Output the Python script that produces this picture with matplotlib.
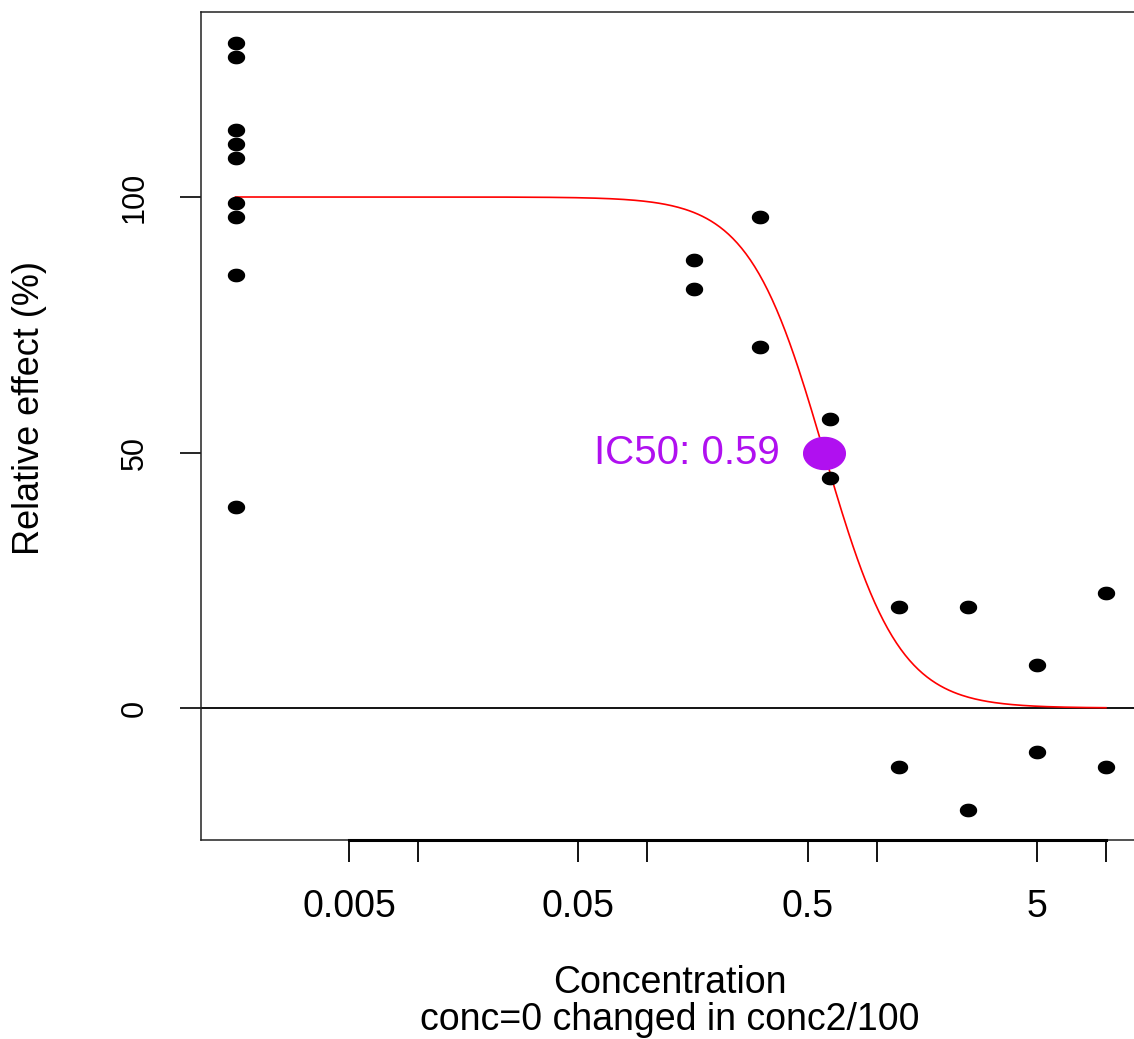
import matplotlib
matplotlib.use("Agg")
import matplotlib.pyplot as plt
import numpy as np
from matplotlib.path import Path
from matplotlib.ticker import NullLocator

plt.rcParams['font.family'] = ['Liberation Sans', 'DejaVu Sans']

# data (conc=0 replaced by conc2/100)
conc = [0.0016] * 9 + [0.16] * 2 + [0.31] * 2 + [0.625] * 2 \
    + [1.25] * 2 + [2.5] * 2 + [5] * 2 + [10] * 2
effect = [130.1, 127.3, 113.2, 110.4, 107.6, 98.9, 96.0, 84.7, 39.4,
          87.7, 81.9,
          96.1, 70.7,
          56.6, 45.1,
          19.7, -11.5,
          19.7, -20.0,
          8.4, -8.7,
          22.6, -11.5]

ic50 = 0.59
hill = 2.65
top, bottom = 100, 0

xticks = [0.005, 0.01, 0.05, 0.1, 0.5, 1, 5, 10]
xticklabels = ['0.005', '', '0.05', '', '0.5', '', '5', '']
yticks = [0, 50, 100]

W, H = 1134, 1039
fig = plt.figure(figsize=(W / 100, H / 100), dpi=100)
ax = fig.add_axes([201 / W, (H - 840) / H, (1139 - 201) / W, (840 - 12) / H])

# slightly wide ellipse marker (reference is stretched horizontally)
t = np.linspace(0, 2 * np.pi, 60)
ell = Path(np.column_stack([1.3 * np.cos(t), np.sin(t)]), closed=True)

# fitted curve
xc = np.logspace(np.log10(min(conc)), np.log10(max(conc)), 400)
yc = bottom + (top - bottom) / (1 + (xc / ic50) ** hill)
ax.plot(xc, yc, color='red', lw=1.2, zorder=2)

ax.axhline(0, color='black', lw=1.3, zorder=1)
ax.plot(conc, effect, ls='none', marker=ell, ms=11.5, color='black', zorder=3)

ax.plot([ic50], [50], ls='none', marker=ell, ms=30, color='#B010F0', zorder=4)
ax.annotate('IC50: %.2f' % ic50, xy=(ic50, 50), xytext=(-32, 0),
            textcoords='offset points', ha='right', va='center',
            fontsize=29, color='#B010F0')

dec = 229.3  # pixels per decade in the reference
ax.set_xscale('log')
ax.set_xlim(10 ** (np.log10(0.005) - 148 / dec), 10 ** (np.log10(0.005) + 790 / dec))
ax.set_ylim(-(840 - 708) / 5.11, (708 - 12) / 5.11)

ax.set_xticks(xticks)
ax.set_xticklabels(xticklabels)
ax.xaxis.set_minor_locator(NullLocator())
ax.set_yticks(yticks)
ax.set_yticklabels([str(v) for v in yticks], rotation=90, va='center')

ax.tick_params(axis='x', length=16, width=1.3, pad=19, labelsize=27)
ax.tick_params(axis='y', length=15, width=1.2, pad=22, labelsize=22)

for sp in ax.spines.values():
    sp.set_linewidth(1.1)
    sp.set_color('#222222')

# R style axis line between first and last tick
ax.plot([xticks[0], xticks[-1]], [0, 0], transform=ax.get_xaxis_transform(),
        color='black', lw=2.2, clip_on=False, zorder=5)

fig.text(30 / W, 1 - 408 / H, 'Relative effect (%)', rotation=90,
         ha='center', va='center', fontsize=26)
fig.text(670 / W, 1 - 993 / H, 'Concentration', ha='center', va='baseline', fontsize=27)
fig.text(670 / W, 1 - 1030 / H, 'conc=0 changed in conc2/100', ha='center',
         va='baseline', fontsize=27)

fig.savefig('out.png', dpi=100)
